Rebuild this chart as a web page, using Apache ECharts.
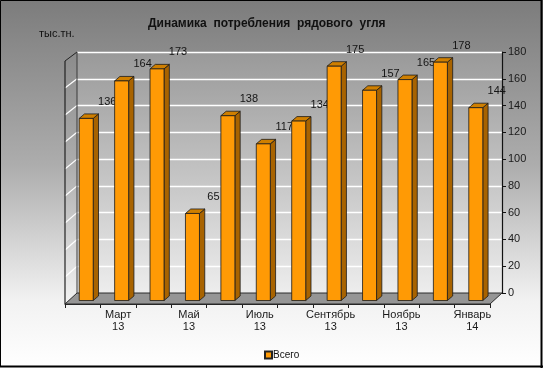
<!DOCTYPE html>
<html><head><meta charset="utf-8">
<script src="https://cdn.jsdelivr.net/npm/echarts@6/dist/echarts.min.js"></script>
<style>html,body{margin:0;padding:0;}#c{width:543px;height:368px;}</style>
</head><body><div id="c"></div>
<script>
const categories = ['Февраль\n13','Март\n13','Апрель\n13','Май\n13','Июнь\n13','Июль\n13','Август\n13','Сентябрь\n13','Октябрь\n13','Ноябрь\n13','Декабрь\n13','Январь\n14'];
const values = [136,164,173,65,138,117,134,175,157,165,178,144];
const seriesName = 'Всего';
const titleText = 'Динамика  потребления  рядового  угля';
const unitText = 'тыс.тн.';
const yMin = 0, yMax = 180, yStep = 20;

const FONT = '"Liberation Sans", Arial, sans-serif';

function renderBar(params, api) {
  const i = api.value(0), v = api.value(1);
  const top = api.coord([i, v]), base = api.coord([i, 0]);
  const fx = top[0] - 8.5, hw = 7;
  const yb = base[1] + 7.5, yt = top[1] + 7.5;
  const dx = 5.3, dy = -4.5;
  return { type: 'group', children: [
    { type: 'polygon', shape: { points: [[fx+hw,yt],[fx+hw+dx,yt+dy],[fx+hw+dx,yb+dy],[fx+hw,yb]] },
      style: { fill: '#a86300', stroke: '#1a1a1a', lineWidth: 0.8 } },
    { type: 'polygon', shape: { points: [[fx-hw,yt],[fx-hw+dx,yt+dy],[fx+hw+dx,yt+dy],[fx+hw,yt]] },
      style: { fill: '#cf7f00', stroke: '#1a1a1a', lineWidth: 0.8 } },
    { type: 'rect', shape: { x: fx-hw, y: yt, width: 2*hw, height: yb-yt },
      style: { fill: '#ff9a05', stroke: '#1a1a1a', lineWidth: 0.8 } },
    { type: 'text', x: top[0] + 12.5, y: top[1] - 9,
      style: { text: String(v), fill: '#151515', font: '11px ' + FONT, align: 'center', verticalAlign: 'middle' } }
  ]};
}

function renderDeco(params, api) {
  const cs = params.coordSys;
  const x = cs.x, y = cs.y, w = cs.width, h = cs.height;
  const ch = [];
  ch.push({ type: 'polygon', shape: { points: [[x, y+h],[x+w, y+h],[x+w-12, y+h+11],[x-12, y+h+11]] },
    style: { fill: '#959595', stroke: '#2a2a2a', lineWidth: 1 } });
  for (let t = yMin + yStep; t < yMax; t += yStep) {
    const p = api.coord([0, t]);
    const d = 11 - 2 * t / yMax;
    ch.push({ type: 'line', shape: { x1: x, y1: p[1], x2: x-12, y2: p[1]+d },
      style: { stroke: '#ffffff', lineWidth: 1.2 } });
  }
  ch.push({ type: 'line', shape: { x1: x, y1: y, x2: x-12, y2: y+9 }, style: { stroke: '#222', lineWidth: 1 } });
  ch.push({ type: 'line', shape: { x1: x-12, y1: y+9, x2: x-12, y2: y+h+11 }, style: { stroke: '#222', lineWidth: 1.2 } });
  ch.push({ type: 'line', shape: { x1: x, y1: y, x2: x, y2: y+h }, style: { stroke: '#3a3a3a', lineWidth: 1 } });
  return { type: 'group', children: ch };
}

const chart = echarts.init(document.getElementById('c'), null, { renderer: 'canvas' });
chart.setOption({
  animation: false,
  backgroundColor: { type: 'linear', x: 0, y: 0, x2: 0, y2: 1, colorStops: [
    { offset: 0, color: '#7c7c7c' }, { offset: 0.45, color: '#adadad' },
    { offset: 0.82, color: '#f2f2f2' }, { offset: 1, color: '#ffffff' } ] },
  title: [
    { text: titleText, left: 143, top: 13, textStyle: { fontFamily: FONT, fontSize: 12, fontWeight: 'bold', color: '#111' } },
    { text: unitText, left: 34, top: 23, textStyle: { fontFamily: FONT, fontSize: 11, fontWeight: 'normal', color: '#111' } }
  ],
  legend: { data: [seriesName], left: 259, top: 345, icon: 'rect', itemWidth: 7, itemHeight: 7,
    textStyle: { fontFamily: FONT, fontSize: 10, color: '#111', padding: [0,0,0,-4] } },
  grid: [
    { left: 77, right: 41, top: 52, bottom: 75, show: true, borderWidth: 0,
      backgroundColor: { type: 'linear', x: 0, y: 0, x2: 0, y2: 1, colorStops: [
        { offset: 0, color: '#999999' }, { offset: 1, color: '#ededed' } ] } },
    { left: 65, right: 53, top: 63, bottom: 64, show: false }
  ],
  xAxis: [
    { gridIndex: 0, type: 'category', data: categories, axisLine: { show: false }, axisTick: { show: false }, axisLabel: { show: false } },
    { gridIndex: 1, type: 'category', data: categories,
      axisLine: { show: true, lineStyle: { color: '#222', width: 1 } },
      axisTick: { show: true, interval: 0, length: 4, lineStyle: { color: '#222' } },
      axisLabel: { interval: function (i) { return i % 2 === 1; }, margin: 5, lineHeight: 12,
        fontFamily: FONT, fontSize: 11, color: '#1a1a1a' } }
  ],
  yAxis: [
    { gridIndex: 0, type: 'value', position: 'right', min: yMin, max: yMax, interval: yStep,
      axisLine: { show: true, lineStyle: { color: '#111', width: 1.2 } },
      axisTick: { show: true, length: 4, lineStyle: { color: '#111' } },
      axisLabel: { margin: 6, fontFamily: FONT, fontSize: 11, color: '#1a1a1a' },
      splitLine: { show: true, lineStyle: { color: '#ffffff', width: 1.3 } } },
    { gridIndex: 1, type: 'value', min: yMin, max: yMax, show: false, splitLine: { show: false } }
  ],
  series: [
    { type: 'custom', name: 'deco', xAxisIndex: 0, yAxisIndex: 0, z: 1, silent: true,
      data: [[0, 0]], renderItem: renderDeco },
    { type: 'custom', name: seriesName, xAxisIndex: 0, yAxisIndex: 0, z: 3,
      itemStyle: { color: '#ff9a05', borderColor: '#222', borderWidth: 0.6 },
      data: values.map((v, i) => [i, v]), renderItem: renderBar }
  ],
  graphic: [
    { type: 'rect', shape: { x: 0.5, y: 0.5, width: 541, height: 366 }, style: { fill: 'none', stroke: '#000', lineWidth: 1 }, z: 100 },
    { type: 'line', shape: { x1: 0, y1: 366.5, x2: 543, y2: 366.5 }, style: { stroke: '#000', lineWidth: 2 }, z: 100 },
    { type: 'line', shape: { x1: 541.5, y1: 0, x2: 541.5, y2: 368 }, style: { stroke: '#000', lineWidth: 2 }, z: 100 }
  ]
});
</script></body></html>
